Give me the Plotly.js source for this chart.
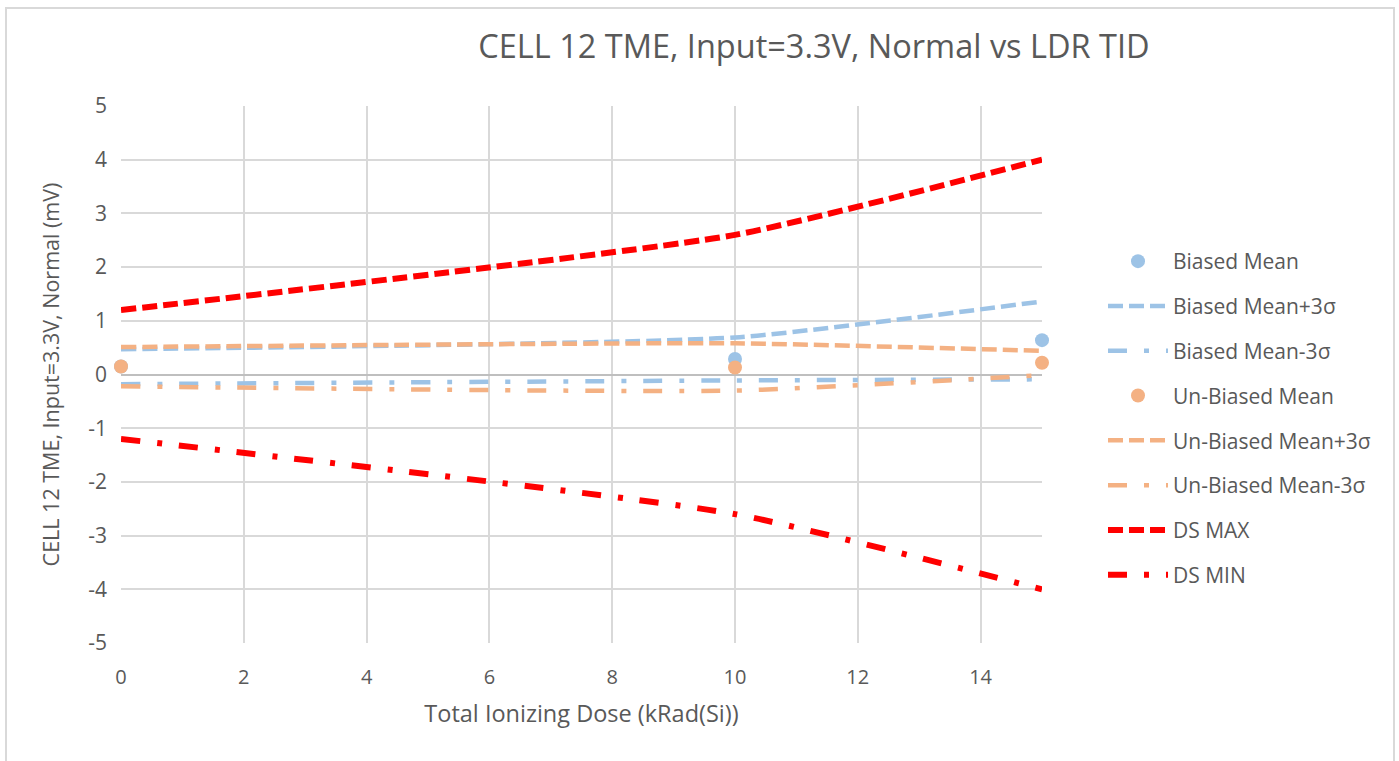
<!DOCTYPE html>
<html>
<head>
<meta charset="utf-8">
<script src="https://cdn.plot.ly/plotly-3.0.1.min.js"></script>
<style>
  html, body { margin: 0; padding: 0; background: #fff; overflow: hidden; }
  #frame { position: absolute; left: 5px; top: 7px; width: 1390px; height: 800px; border: 2px solid #d9d9d9; box-sizing: border-box; pointer-events: none; z-index: 5; }
  #chart { position: absolute; left: 0; top: 0; width: 1399px; height: 761px; }
</style>
</head>
<body>
<div id="chart"></div>
<div id="frame"></div>
<script>
// Total Ionizing Dose (kRad(Si))
const dose = [0, 10, 15];

const biasedMean      = [0.15, 0.29, 0.64];
const biasedPlus3s    = [0.47, 0.69, 1.36];
const biasedMinus3s   = [-0.18, -0.11, -0.09];
const unbiasedMean    = [0.15, 0.13, 0.22];
const unbiasedPlus3s  = [0.51, 0.58, 0.44];
const unbiasedMinus3s = [-0.22, -0.30, -0.01];
const dsMax           = [1.2, 2.6, 4.0];
const dsMin           = [-1.2, -2.6, -4.0];

const xTicks = [0, 2, 4, 6, 8, 10, 12, 14];
const yTicks = [-5, -4, -3, -2, -1, 0, 1, 2, 3, 4, 5];

const BLUE = '#9dc3e6';
const ORANGE = '#f4b183';
const RED = '#ff0000';
const DASH = '15px,6px';
const DASHDOT = '19px,17px,5px,17px';
const TXT = '#595959';
const FONT = 'Open Sans, sans-serif';

function lineTrace(name, y, color, width, dash, grp) {
  return {
    x: dose, y: y, name: name, type: 'scatter', mode: 'lines',
    line: { color: color, width: width, dash: dash, shape: 'spline', smoothing: 0.5 },
    legendgroup: grp, cliponaxis: false
  };
}
function markerTrace(name, y, color, grp) {
  return {
    x: dose, y: y, name: name, type: 'scatter', mode: 'markers',
    marker: { color: color, size: 14 }, legendgroup: grp, cliponaxis: false
  };
}

const data = [
  markerTrace('Biased Mean', biasedMean, BLUE, 'g1'),
  lineTrace('Biased Mean+3σ', biasedPlus3s, BLUE, 4.5, DASH, 'g2'),
  lineTrace('Biased Mean-3σ', biasedMinus3s, BLUE, 4.5, DASHDOT, 'g3'),
  markerTrace('Un-Biased Mean', unbiasedMean, ORANGE, 'g4'),
  lineTrace('Un-Biased Mean+3σ', unbiasedPlus3s, ORANGE, 4.5, DASH, 'g5'),
  lineTrace('Un-Biased Mean-3σ', unbiasedMinus3s, ORANGE, 4.5, DASHDOT, 'g6'),
  lineTrace('DS MAX', dsMax, RED, 6, DASH, 'g7'),
  lineTrace('DS MIN', dsMin, RED, 6, DASHDOT, 'g8')
];

const layout = {
  width: 1399, height: 761,
  paper_bgcolor: '#ffffff', plot_bgcolor: '#ffffff',
  margin: { l: 121, r: 357, t: 106, b: 118 },
  font: { family: FONT, color: TXT, size: 18 },
  title: {
    text: 'CELL 12 TME, Input=3.3V, Normal vs LDR TID',
    font: { family: FONT, size: 32.5, color: TXT },
    xref: 'container', yref: 'container',
    x: 814 / 1399, xanchor: 'center', y: 1 - 47 / 761, yanchor: 'middle'
  },
  xaxis: {
    range: [0, 15], tickvals: xTicks, ticktext: xTicks.map(String),
    showgrid: true, gridcolor: '#d9d9d9', gridwidth: 2,
    zeroline: false, showline: false, ticks: '',
    ticklabelstandoff: 20,
    tickfont: { family: FONT, size: 20, color: TXT },
    title: { text: 'Total Ionizing Dose (kRad(Si))', font: { family: FONT, size: 23.5, color: TXT }, standoff: 16 }
  },
  yaxis: {
    range: [-5, 5], tickvals: yTicks, ticktext: yTicks.map(String),
    showgrid: true, gridcolor: '#d9d9d9', gridwidth: 2,
    zeroline: true, zerolinecolor: '#bfbfbf', zerolinewidth: 2,
    showline: false, ticks: '',
    ticklabelstandoff: 13,
    tickfont: { family: FONT, size: 21, color: TXT },
    title: { text: 'CELL 12 TME, Input=3.3V, Normal (mV)', font: { family: FONT, size: 21.5, color: TXT }, standoff: 22 }
  },
  showlegend: true,
  legend: {
    xref: 'container', yref: 'container',
    x: 1103 / 1399, xanchor: 'left',
    y: 1 - 241 / 761, yanchor: 'top',
    traceorder: 'grouped', tracegroupgap: 14.5,
    font: { family: FONT, size: 21, color: TXT },
    bgcolor: 'rgba(0,0,0,0)', itemwidth: 60
  }
};

Plotly.newPlot('chart', data, layout, { displayModeBar: false, staticPlot: true });
</script>
</body>
</html>
